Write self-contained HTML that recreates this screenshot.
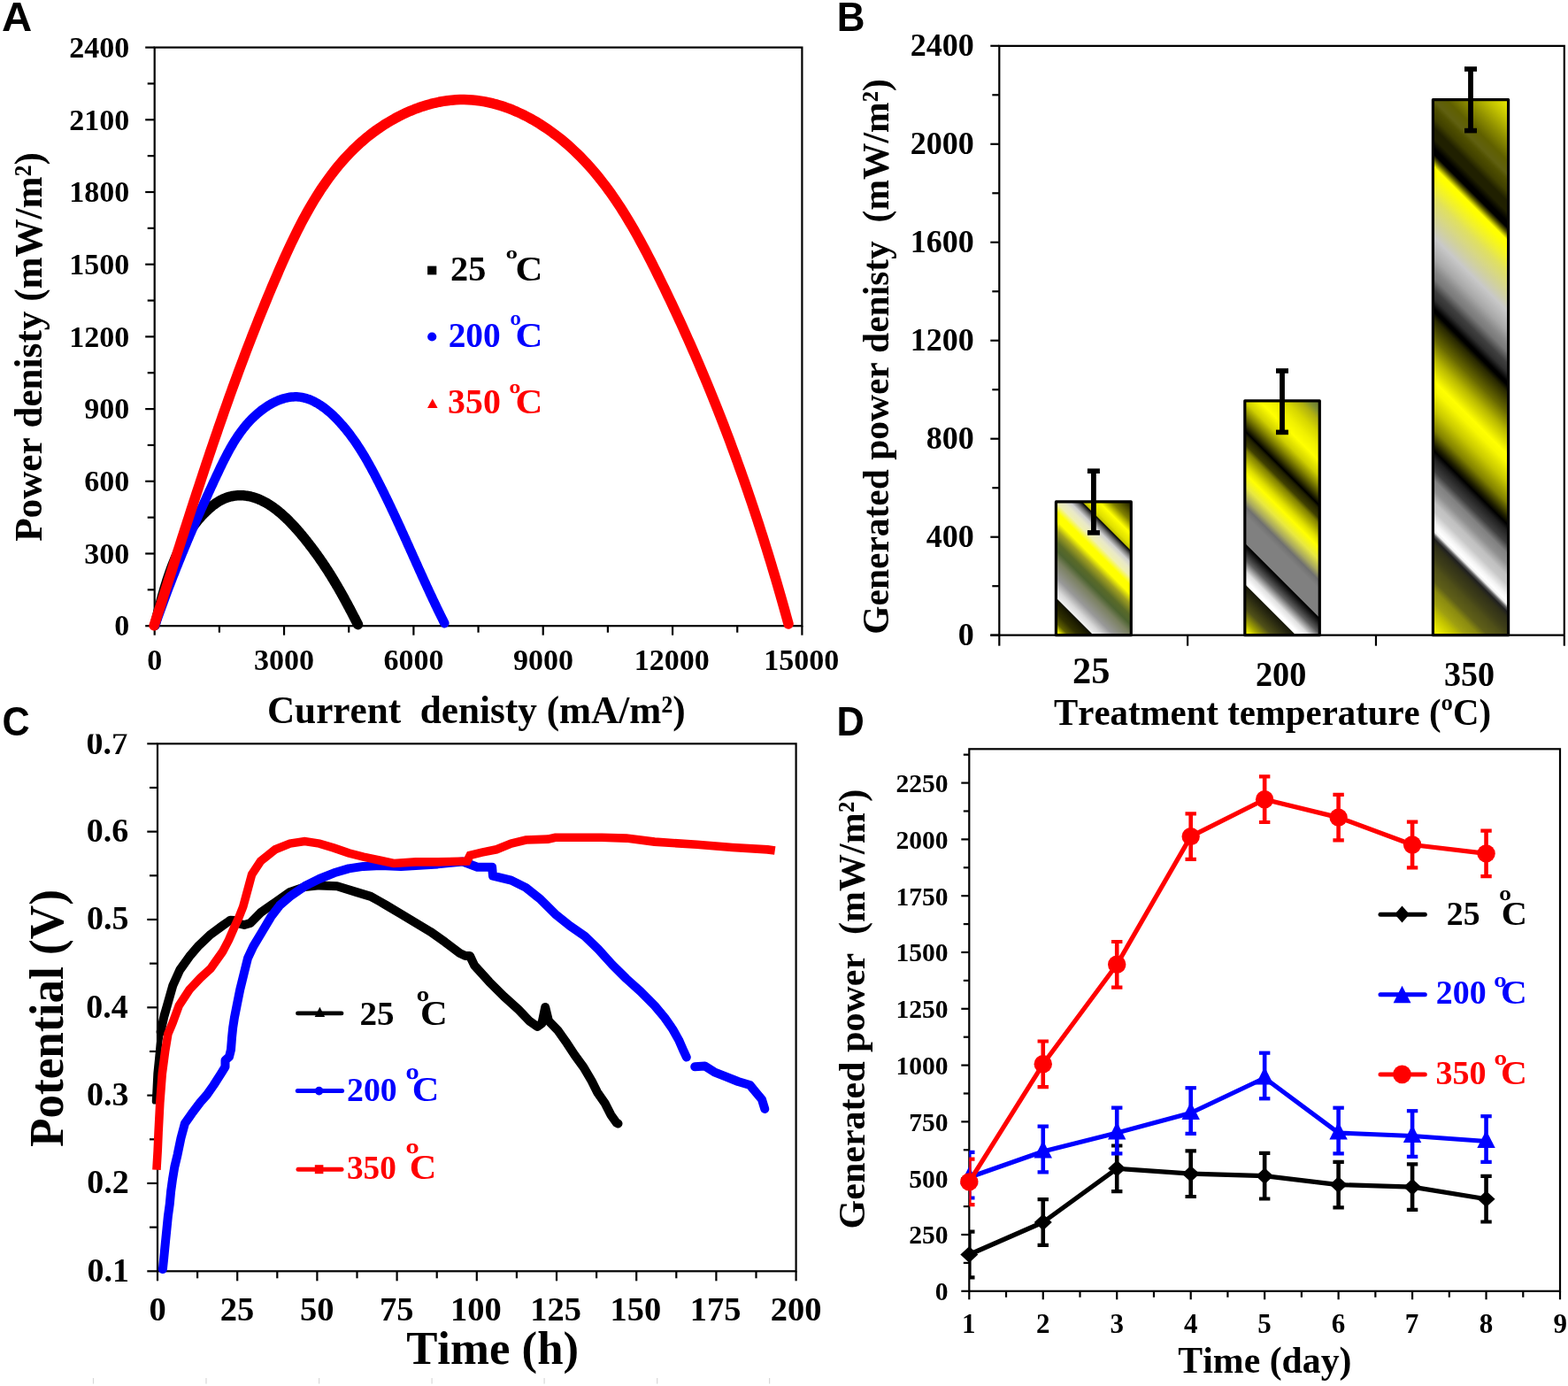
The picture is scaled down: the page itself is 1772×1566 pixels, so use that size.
<!DOCTYPE html>
<html><head><meta charset="utf-8"><title>Figure</title>
<style>
html,body{margin:0;padding:0;background:#fff;}
body{width:1772px;height:1566px;overflow:hidden;}
svg{display:block;}
text{font-weight:bold;font-kerning:none;white-space:pre;}
</style></head><body>
<svg width="1772" height="1566" viewBox="0 0 1772 1566">
<rect width="1772" height="1566" fill="#fff"/>
<rect x="174.7" y="53.6" width="731.7" height="653.6" fill="none" stroke="#000" stroke-width="2.2"/>
<line x1="164.2" y1="707.2" x2="174.7" y2="707.2" stroke="#000" stroke-width="2.2" />
<text xml:space="preserve" transform="translate(129.29 718.4) scale(1.0000 1)" font-size="34" fill="#000" style="font-family:'Liberation Serif',serif" >0</text>
<line x1="166.7" y1="666.35" x2="174.7" y2="666.35" stroke="#000" stroke-width="2.2" />
<line x1="164.2" y1="625.5" x2="174.7" y2="625.5" stroke="#000" stroke-width="2.2" />
<text xml:space="preserve" transform="translate(95.29 636.7) scale(1.0000 1)" font-size="34" fill="#000" style="font-family:'Liberation Serif',serif" >300</text>
<line x1="166.7" y1="584.65" x2="174.7" y2="584.65" stroke="#000" stroke-width="2.2" />
<line x1="164.2" y1="543.8" x2="174.7" y2="543.8" stroke="#000" stroke-width="2.2" />
<text xml:space="preserve" transform="translate(95.29 555) scale(1.0000 1)" font-size="34" fill="#000" style="font-family:'Liberation Serif',serif" >600</text>
<line x1="166.7" y1="502.95" x2="174.7" y2="502.95" stroke="#000" stroke-width="2.2" />
<line x1="164.2" y1="462.1" x2="174.7" y2="462.1" stroke="#000" stroke-width="2.2" />
<text xml:space="preserve" transform="translate(95.29 473.3) scale(1.0000 1)" font-size="34" fill="#000" style="font-family:'Liberation Serif',serif" >900</text>
<line x1="166.7" y1="421.25" x2="174.7" y2="421.25" stroke="#000" stroke-width="2.2" />
<line x1="164.2" y1="380.4" x2="174.7" y2="380.4" stroke="#000" stroke-width="2.2" />
<text xml:space="preserve" transform="translate(78.29 391.6) scale(1.0000 1)" font-size="34" fill="#000" style="font-family:'Liberation Serif',serif" >1200</text>
<line x1="166.7" y1="339.55" x2="174.7" y2="339.55" stroke="#000" stroke-width="2.2" />
<line x1="164.2" y1="298.7" x2="174.7" y2="298.7" stroke="#000" stroke-width="2.2" />
<text xml:space="preserve" transform="translate(78.29 309.9) scale(1.0000 1)" font-size="34" fill="#000" style="font-family:'Liberation Serif',serif" >1500</text>
<line x1="166.7" y1="257.85" x2="174.7" y2="257.85" stroke="#000" stroke-width="2.2" />
<line x1="164.2" y1="217" x2="174.7" y2="217" stroke="#000" stroke-width="2.2" />
<text xml:space="preserve" transform="translate(78.29 228.2) scale(1.0000 1)" font-size="34" fill="#000" style="font-family:'Liberation Serif',serif" >1800</text>
<line x1="166.7" y1="176.15" x2="174.7" y2="176.15" stroke="#000" stroke-width="2.2" />
<line x1="164.2" y1="135.3" x2="174.7" y2="135.3" stroke="#000" stroke-width="2.2" />
<text xml:space="preserve" transform="translate(78.29 146.5) scale(1.0000 1)" font-size="34" fill="#000" style="font-family:'Liberation Serif',serif" >2100</text>
<line x1="166.7" y1="94.45" x2="174.7" y2="94.45" stroke="#000" stroke-width="2.2" />
<line x1="164.2" y1="53.6" x2="174.7" y2="53.6" stroke="#000" stroke-width="2.2" />
<text xml:space="preserve" transform="translate(78.29 64.8) scale(1.0000 1)" font-size="34" fill="#000" style="font-family:'Liberation Serif',serif" >2400</text>
<line x1="174.7" y1="707.2" x2="174.7" y2="717.7" stroke="#000" stroke-width="2.2" />
<text xml:space="preserve" transform="translate(166.2 756.8) scale(1.0000 1)" font-size="34" fill="#000" style="font-family:'Liberation Serif',serif" >0</text>
<line x1="247.87" y1="707.2" x2="247.87" y2="714.7" stroke="#000" stroke-width="2.2" />
<line x1="321.04" y1="707.2" x2="321.04" y2="717.7" stroke="#000" stroke-width="2.2" />
<text xml:space="preserve" transform="translate(287.05 756.8) scale(1.0000 1)" font-size="34" fill="#000" style="font-family:'Liberation Serif',serif" >3000</text>
<line x1="394.21" y1="707.2" x2="394.21" y2="714.7" stroke="#000" stroke-width="2.2" />
<line x1="467.38" y1="707.2" x2="467.38" y2="717.7" stroke="#000" stroke-width="2.2" />
<text xml:space="preserve" transform="translate(433.45 756.8) scale(1.0000 1)" font-size="34" fill="#000" style="font-family:'Liberation Serif',serif" >6000</text>
<line x1="540.55" y1="707.2" x2="540.55" y2="714.7" stroke="#000" stroke-width="2.2" />
<line x1="613.72" y1="707.2" x2="613.72" y2="717.7" stroke="#000" stroke-width="2.2" />
<text xml:space="preserve" transform="translate(579.9 756.8) scale(1.0000 1)" font-size="34" fill="#000" style="font-family:'Liberation Serif',serif" >9000</text>
<line x1="686.89" y1="707.2" x2="686.89" y2="714.7" stroke="#000" stroke-width="2.2" />
<line x1="760.06" y1="707.2" x2="760.06" y2="717.7" stroke="#000" stroke-width="2.2" />
<text xml:space="preserve" transform="translate(716.85 756.8) scale(1.0000 1)" font-size="34" fill="#000" style="font-family:'Liberation Serif',serif" >12000</text>
<line x1="833.23" y1="707.2" x2="833.23" y2="714.7" stroke="#000" stroke-width="2.2" />
<line x1="906.4" y1="707.2" x2="906.4" y2="717.7" stroke="#000" stroke-width="2.2" />
<text xml:space="preserve" transform="translate(863.19 756.8) scale(1.0000 1)" font-size="34" fill="#000" style="font-family:'Liberation Serif',serif" >15000</text>
<text xml:space="preserve" transform="translate(46.6 611.74) rotate(-90) scale(0.9809 1)" font-size="44" fill="#000" style="font-family:'Liberation Serif',serif">Power denisty (mW/m²)</text>
<text xml:space="preserve" transform="translate(301.89 816.6) scale(0.9719 1)" font-size="44.5" fill="#000" style="font-family:'Liberation Serif',serif" >Current  denisty (mA/m²)</text>
<g fill="none" stroke-linejoin="round" stroke-linecap="round">
<path d="M175.06 706.21 L175.36 704.99 L175.67 703.77 L175.98 702.55 L176.3 701.33 L176.61 700.1 L176.92 698.87 L177.23 697.63 L177.55 696.4 L177.87 695.16 L178.18 693.92 L178.5 692.67 L178.82 691.43 L179.14 690.18 L179.47 688.93 L179.79 687.68 L180.12 686.42 L180.45 685.17 L180.78 683.91 L181.12 682.65 L181.45 681.39 L181.79 680.13 L182.13 678.87 L182.48 677.61 L182.82 676.34 L183.17 675.08 L183.53 673.81 L183.88 672.55 L184.24 671.28 L184.6 670.02 L184.97 668.75 L185.34 667.48 L185.71 666.22 L186.08 664.95 L186.46 663.69 L186.85 662.42 L187.23 661.16 L187.62 659.89 L188.02 658.63 L188.42 657.37 L188.82 656.1 L189.23 654.84 L189.65 653.58 L190.06 652.33 L190.49 651.07 L190.91 649.81 L191.35 648.56 L191.78 647.31 L192.23 646.06 L192.67 644.81 L193.13 643.56 L193.58 642.32 L194.05 641.08 L194.52 639.84 L194.99 638.6 L195.48 637.37 L195.96 636.14 L196.46 634.91 L196.96 633.68 L197.46 632.46 L197.97 631.24 L198.49 630.03 L199.02 628.81 L199.55 627.61 L200.09 626.4 L200.63 625.2 L201.19 624 L201.75 622.81 L202.31 621.62 L202.89 620.43 L203.47 619.25 L204.06 618.08 L204.65 616.9 L205.26 615.74 L205.87 614.58 L206.49 613.42 L207.12 612.26 L207.75 611.12 L208.39 609.98 L209.05 608.84 L209.71 607.71 L210.38 606.58 L211.05 605.46 L211.74 604.35 L212.44 603.24 L213.14 602.14 L213.85 601.04 L214.57 599.95 L215.3 598.86 L216.05 597.79 L216.79 596.72 L217.55 595.65 L218.32 594.6 L219.1 593.54 L219.89 592.5 L220.69 591.47 L221.5 590.44 L222.31 589.41 L223.14 588.4 L223.98 587.39 L224.83 586.39 L225.69 585.4 L226.56 584.42 L227.44 583.45 L228.33 582.48 L229.23 581.52 L230.15 580.57 L231.07 579.63 L232.01 578.69 L232.96 577.77 L233.91 576.85 L234.88 575.95 L235.86 575.06 L236.86 574.18 L237.86 573.32 L238.88 572.47 L239.9 571.64 L240.94 570.83 L241.99 570.04 L243.05 569.27 L244.12 568.52 L245.21 567.79 L246.3 567.09 L247.41 566.42 L248.53 565.77 L249.66 565.15 L250.8 564.56 L251.95 564 L253.12 563.47 L254.3 562.98 L255.48 562.52 L256.68 562.09 L257.89 561.71 L259.12 561.35 L260.34 561.04 L261.58 560.75 L262.82 560.51 L264.06 560.29 L265.31 560.11 L266.56 559.97 L267.81 559.86 L269.06 559.78 L270.3 559.73 L271.54 559.71 L272.78 559.73 L274.01 559.77 L275.24 559.85 L276.46 559.96 L277.68 560.1 L278.9 560.26 L280.11 560.46 L281.31 560.68 L282.51 560.93 L283.71 561.21 L284.9 561.52 L286.09 561.85 L287.27 562.21 L288.45 562.59 L289.62 563 L290.79 563.43 L291.95 563.89 L293.11 564.37 L294.27 564.87 L295.42 565.4 L296.56 565.95 L297.7 566.52 L298.83 567.11 L299.96 567.72 L301.08 568.36 L302.2 569.01 L303.32 569.68 L304.42 570.37 L305.53 571.08 L306.62 571.81 L307.71 572.55 L308.8 573.32 L309.88 574.1 L310.96 574.89 L312.03 575.7 L313.09 576.53 L314.15 577.37 L315.2 578.22 L316.25 579.09 L317.29 579.97 L318.33 580.87 L319.36 581.78 L320.38 582.7 L321.4 583.63 L322.42 584.57 L323.42 585.52 L324.42 586.48 L325.42 587.46 L326.41 588.44 L327.39 589.43 L328.37 590.43 L329.34 591.43 L330.3 592.45 L331.26 593.47 L332.21 594.49 L333.16 595.52 L334.09 596.56 L335.03 597.61 L335.95 598.65 L336.87 599.7 L337.79 600.76 L338.69 601.82 L339.59 602.88 L340.49 603.94 L341.37 605.01 L342.25 606.07 L343.13 607.14 L344 608.2 L344.86 609.27 L345.71 610.34 L346.55 611.4 L347.39 612.47 L348.23 613.53 L349.05 614.59 L349.87 615.65 L350.68 616.7 L351.49 617.76 L352.29 618.81 L353.08 619.86 L353.87 620.91 L354.65 621.96 L355.42 623.01 L356.19 624.05 L356.96 625.1 L357.72 626.14 L358.47 627.19 L359.21 628.23 L359.96 629.28 L360.69 630.32 L361.43 631.36 L362.15 632.41 L362.87 633.45 L363.59 634.49 L364.31 635.54 L365.01 636.58 L365.72 637.63 L366.42 638.67 L367.11 639.72 L367.81 640.77 L368.49 641.81 L369.18 642.86 L369.86 643.91 L370.54 644.96 L371.21 646.02 L371.88 647.07 L372.55 648.13 L373.22 649.19 L373.88 650.25 L374.54 651.31 L375.19 652.37 L375.85 653.44 L376.5 654.51 L377.15 655.58 L377.8 656.65 L378.44 657.73 L379.08 658.81 L379.72 659.89 L380.36 660.98 L381 662.07 L381.64 663.16 L382.27 664.26 L382.91 665.35 L383.54 666.46 L384.17 667.56 L384.8 668.67 L385.43 669.79 L386.06 670.91 L386.69 672.03 L387.32 673.15 L387.94 674.29 L388.57 675.42 L389.2 676.56 L389.83 677.71 L390.45 678.86 L391.08 680.01 L391.71 681.17 L392.34 682.34 L392.97 683.51 L393.6 684.68 L394.23 685.87 L394.86 687.05 L395.49 688.25 L396.13 689.44 L396.76 690.65 L397.4 691.86 L398.04 693.08 L398.68 694.3 L399.32 695.53 L399.96 696.77 L400.61 698.01 L401.26 699.26 L401.91 700.52 L402.56 701.79 L403.21 703.06 L403.87 704.34 L404.53 705.62" stroke="#000" stroke-width="11.5"/>
<path d="M175.15 706.65 L175.86 704.61 L176.57 702.57 L177.29 700.54 L178 698.5 L178.72 696.48 L179.44 694.45 L180.17 692.43 L180.89 690.42 L181.62 688.4 L182.35 686.39 L183.08 684.38 L183.81 682.38 L184.55 680.38 L185.28 678.38 L186.02 676.38 L186.77 674.39 L187.51 672.4 L188.25 670.41 L189 668.43 L189.75 666.45 L190.5 664.47 L191.26 662.49 L192.01 660.52 L192.77 658.55 L193.53 656.58 L194.29 654.61 L195.05 652.64 L195.82 650.68 L196.59 648.72 L197.36 646.76 L198.13 644.8 L198.91 642.85 L199.68 640.9 L200.46 638.95 L201.24 637 L202.03 635.05 L202.81 633.1 L203.6 631.16 L204.39 629.21 L205.18 627.27 L205.98 625.33 L206.78 623.39 L207.58 621.46 L208.38 619.52 L209.18 617.58 L209.99 615.65 L210.8 613.72 L211.61 611.79 L212.42 609.85 L213.24 607.92 L214.05 606 L214.87 604.07 L215.7 602.14 L216.52 600.21 L217.35 598.28 L218.18 596.36 L219.01 594.43 L219.84 592.51 L220.68 590.58 L221.52 588.66 L222.36 586.73 L223.2 584.81 L224.05 582.89 L224.9 580.96 L225.75 579.04 L226.61 577.11 L227.46 575.19 L228.32 573.27 L229.18 571.34 L230.05 569.42 L230.91 567.49 L231.78 565.56 L232.65 563.64 L233.53 561.71 L234.4 559.79 L235.28 557.86 L236.16 555.93 L237.05 554 L237.93 552.07 L238.82 550.14 L239.72 548.21 L240.61 546.27 L241.51 544.34 L242.41 542.4 L243.31 540.47 L244.21 538.53 L245.12 536.59 L246.03 534.65 L246.95 532.71 L247.87 530.77 L248.79 528.83 L249.72 526.9 L250.66 524.96 L251.6 523.03 L252.55 521.11 L253.52 519.19 L254.49 517.27 L255.47 515.36 L256.47 513.46 L257.47 511.56 L258.49 509.68 L259.53 507.8 L260.58 505.94 L261.64 504.08 L262.72 502.24 L263.82 500.41 L264.94 498.59 L266.07 496.79 L267.22 495 L268.4 493.23 L269.59 491.47 L270.81 489.73 L272.05 488.01 L273.31 486.31 L274.6 484.63 L275.91 482.96 L277.25 481.32 L278.62 479.7 L280.01 478.1 L281.43 476.52 L282.88 474.97 L284.36 473.44 L285.87 471.94 L287.41 470.47 L288.99 469.02 L290.59 467.6 L292.23 466.2 L293.9 464.84 L295.61 463.51 L297.34 462.22 L299.1 460.97 L300.88 459.76 L302.68 458.6 L304.51 457.48 L306.36 456.41 L308.23 455.4 L310.11 454.44 L312.01 453.54 L313.92 452.71 L315.84 451.93 L317.77 451.23 L319.72 450.59 L321.66 450.02 L323.61 449.53 L325.57 449.12 L327.52 448.79 L329.48 448.54 L331.43 448.38 L333.38 448.31 L335.32 448.33 L337.26 448.44 L339.18 448.65 L341.1 448.95 L343.01 449.33 L344.91 449.8 L346.79 450.36 L348.67 451 L350.53 451.71 L352.39 452.49 L354.22 453.35 L356.05 454.28 L357.86 455.27 L359.66 456.33 L361.44 457.44 L363.2 458.61 L364.95 459.84 L366.69 461.11 L368.4 462.44 L370.1 463.81 L371.78 465.22 L373.44 466.67 L375.08 468.16 L376.7 469.69 L378.3 471.24 L379.87 472.82 L381.43 474.43 L382.97 476.06 L384.48 477.71 L385.97 479.38 L387.43 481.06 L388.87 482.75 L390.28 484.45 L391.67 486.16 L393.04 487.87 L394.38 489.59 L395.7 491.31 L397 493.04 L398.27 494.78 L399.53 496.52 L400.76 498.27 L401.98 500.03 L403.17 501.79 L404.35 503.55 L405.51 505.32 L406.66 507.1 L407.79 508.88 L408.9 510.67 L410 512.46 L411.08 514.26 L412.16 516.06 L413.22 517.86 L414.26 519.67 L415.3 521.49 L416.33 523.31 L417.34 525.13 L418.35 526.96 L419.35 528.79 L420.35 530.63 L421.33 532.47 L422.31 534.31 L423.29 536.16 L424.26 538.01 L425.22 539.86 L426.19 541.72 L427.14 543.58 L428.1 545.44 L429.05 547.31 L429.99 549.18 L430.93 551.05 L431.87 552.93 L432.8 554.81 L433.73 556.69 L434.66 558.57 L435.59 560.46 L436.51 562.35 L437.42 564.24 L438.34 566.13 L439.25 568.03 L440.16 569.93 L441.07 571.83 L441.97 573.73 L442.87 575.64 L443.77 577.55 L444.66 579.45 L445.56 581.37 L446.45 583.28 L447.34 585.19 L448.23 587.11 L449.11 589.03 L450 590.95 L450.88 592.87 L451.76 594.79 L452.64 596.71 L453.51 598.63 L454.39 600.56 L455.27 602.49 L456.14 604.41 L457.01 606.34 L457.88 608.27 L458.75 610.2 L459.62 612.13 L460.49 614.06 L461.36 615.99 L462.23 617.93 L463.1 619.86 L463.97 621.79 L464.83 623.73 L465.7 625.66 L466.57 627.59 L467.44 629.53 L468.3 631.46 L469.17 633.39 L470.04 635.33 L470.91 637.26 L471.78 639.19 L472.65 641.12 L473.52 643.05 L474.39 644.99 L475.27 646.92 L476.14 648.85 L477.01 650.78 L477.89 652.7 L478.77 654.63 L479.65 656.56 L480.53 658.48 L481.41 660.41 L482.29 662.33 L483.18 664.25 L484.06 666.17 L484.95 668.09 L485.85 670.01 L486.74 671.92 L487.64 673.84 L488.53 675.75 L489.43 677.66 L490.34 679.57 L491.24 681.48 L492.15 683.38 L493.06 685.28 L493.98 687.19 L494.9 689.08 L495.82 690.98 L496.74 692.87 L497.67 694.77 L498.6 696.65 L499.53 698.54 L500.47 700.42 L501.41 702.31 L502.36 704.18" stroke="#0000ff" stroke-width="10.5"/>
<path d="M174.15 706.85 L175.67 702.1 L177.2 697.35 L178.72 692.61 L180.24 687.87 L181.75 683.14 L183.26 678.42 L184.77 673.7 L186.28 668.98 L187.78 664.27 L189.29 659.57 L190.79 654.86 L192.28 650.17 L193.78 645.48 L195.28 640.79 L196.77 636.11 L198.26 631.43 L199.76 626.76 L201.25 622.09 L202.74 617.43 L204.23 612.77 L205.72 608.11 L207.22 603.46 L208.71 598.82 L210.2 594.17 L211.7 589.53 L213.19 584.9 L214.69 580.26 L216.19 575.64 L217.69 571.01 L219.19 566.39 L220.7 561.77 L222.21 557.15 L223.72 552.54 L225.23 547.93 L226.75 543.33 L228.27 538.73 L229.79 534.13 L231.32 529.53 L232.85 524.93 L234.38 520.34 L235.92 515.75 L237.46 511.17 L239.01 506.58 L240.57 502 L242.13 497.42 L243.69 492.85 L245.26 488.27 L246.83 483.7 L248.42 479.13 L250 474.56 L251.6 469.99 L253.2 465.42 L254.81 460.86 L256.42 456.3 L258.04 451.74 L259.67 447.18 L261.31 442.62 L262.96 438.06 L264.61 433.5 L266.27 428.95 L267.94 424.4 L269.62 419.84 L271.31 415.29 L273.01 410.74 L274.71 406.19 L276.43 401.64 L278.15 397.09 L279.89 392.54 L281.64 387.99 L283.39 383.44 L285.16 378.9 L286.94 374.35 L288.73 369.8 L290.53 365.25 L292.34 360.71 L294.16 356.16 L296 351.61 L297.85 347.06 L299.71 342.51 L301.58 337.96 L303.46 333.41 L305.36 328.86 L307.27 324.31 L309.2 319.76 L311.14 315.21 L313.09 310.65 L315.05 306.1 L317.04 301.55 L319.04 297 L321.06 292.45 L323.1 287.92 L325.16 283.39 L327.25 278.88 L329.37 274.38 L331.51 269.9 L333.69 265.43 L335.89 260.98 L338.13 256.56 L340.4 252.16 L342.71 247.79 L345.06 243.44 L347.45 239.12 L349.88 234.84 L352.36 230.59 L354.88 226.38 L357.45 222.2 L360.07 218.07 L362.73 213.98 L365.45 209.93 L368.23 205.93 L371.06 201.98 L373.94 198.07 L376.89 194.23 L379.9 190.43 L382.96 186.69 L386.1 183.01 L389.3 179.39 L392.57 175.84 L395.9 172.35 L399.31 168.92 L402.8 165.57 L406.35 162.28 L409.98 159.07 L413.7 155.94 L417.49 152.88 L421.36 149.9 L425.31 147 L429.34 144.19 L433.44 141.47 L437.61 138.84 L441.84 136.32 L446.13 133.89 L450.48 131.58 L454.88 129.38 L459.33 127.29 L463.82 125.32 L468.36 123.48 L472.93 121.76 L477.53 120.18 L482.17 118.73 L486.83 117.42 L491.51 116.26 L496.2 115.25 L500.91 114.39 L505.63 113.69 L510.36 113.15 L515.08 112.78 L519.81 112.57 L524.52 112.54 L529.23 112.68 L533.93 112.99 L538.61 113.47 L543.28 114.1 L547.94 114.89 L552.57 115.84 L557.18 116.93 L561.77 118.16 L566.33 119.54 L570.87 121.05 L575.37 122.7 L579.84 124.47 L584.28 126.37 L588.68 128.38 L593.05 130.52 L597.37 132.76 L601.66 135.12 L605.89 137.58 L610.08 140.13 L614.22 142.79 L618.32 145.54 L622.35 148.37 L626.34 151.29 L630.26 154.29 L634.13 157.37 L637.94 160.51 L641.68 163.73 L645.35 167.01 L648.96 170.35 L652.51 173.75 L655.98 177.2 L659.4 180.71 L662.75 184.27 L666.04 187.89 L669.27 191.55 L672.45 195.27 L675.57 199.03 L678.63 202.83 L681.64 206.68 L684.6 210.57 L687.51 214.5 L690.37 218.47 L693.19 222.48 L695.96 226.52 L698.68 230.59 L701.37 234.7 L704.01 238.84 L706.62 243.01 L709.18 247.2 L711.72 251.42 L714.21 255.67 L716.68 259.94 L719.11 264.23 L721.51 268.54 L723.89 272.86 L726.24 277.2 L728.56 281.56 L730.86 285.93 L733.14 290.31 L735.39 294.7 L737.63 299.1 L739.85 303.51 L742.05 307.92 L744.25 312.33 L746.42 316.75 L748.59 321.17 L750.74 325.59 L752.88 330.01 L755 334.43 L757.12 338.86 L759.22 343.29 L761.31 347.72 L763.38 352.15 L765.45 356.59 L767.5 361.02 L769.54 365.46 L771.57 369.9 L773.58 374.35 L775.58 378.8 L777.57 383.25 L779.55 387.7 L781.52 392.16 L783.48 396.61 L785.42 401.08 L787.35 405.54 L789.28 410.01 L791.18 414.48 L793.08 418.95 L794.97 423.43 L796.84 427.91 L798.71 432.39 L800.56 436.88 L802.4 441.37 L804.23 445.87 L806.05 450.36 L807.86 454.87 L809.66 459.37 L811.45 463.88 L813.22 468.39 L814.99 472.91 L816.74 477.43 L818.49 481.95 L820.22 486.48 L821.95 491.02 L823.66 495.55 L825.36 500.09 L827.05 504.64 L828.74 509.19 L830.41 513.74 L832.07 518.3 L833.72 522.86 L835.37 527.43 L837 532.01 L838.62 536.58 L840.23 541.16 L841.84 545.75 L843.43 550.34 L845.01 554.94 L846.59 559.54 L848.15 564.15 L849.71 568.76 L851.26 573.38 L852.79 578 L854.32 582.63 L855.84 587.26 L857.35 591.9 L858.85 596.54 L860.34 601.19 L861.83 605.85 L863.3 610.51 L864.77 615.18 L866.22 619.85 L867.67 624.53 L869.11 629.21 L870.54 633.9 L871.97 638.6 L873.38 643.3 L874.79 648.01 L876.19 652.72 L877.58 657.44 L878.96 662.17 L880.33 666.91 L881.7 671.65 L883.06 676.39 L884.41 681.15 L885.75 685.91 L887.08 690.67 L888.41 695.44 L889.73 700.22 L891.04 705.01" stroke="#ff0000" stroke-width="11.5"/>
</g>
<text xml:space="preserve" transform="translate(2.02 34.8) scale(1.0193 1)" font-size="46.5" fill="#000" style="font-family:'Liberation Sans',sans-serif" >A</text>
<rect x="483.1" y="300.6" width="10.2" height="9.8" fill="#000"/>
<circle cx="488.2" cy="380.5" r="5.1" fill="#0000ff"/>
<path d="M483 461 L494.6 461 L488.8 450.4 Z" fill="#ff0000"/>
<text xml:space="preserve" transform="translate(509.01 317) scale(1.0220 1)" font-size="39.4" fill="#000" style="font-family:'Liberation Serif',serif" >25</text>
<text transform="translate(571.55 302.57) scale(0.4125 0.2946)" font-size="100" fill="#000" style="font-family:'Liberation Serif',serif">º</text>
<text xml:space="preserve" transform="translate(582.41 317.3) scale(1.0415 1)" font-size="41" fill="#000" style="font-family:'Liberation Serif',serif" >C</text>
<text xml:space="preserve" transform="translate(506.64 392) scale(0.9909 1)" font-size="39.8" fill="#0000ff" style="font-family:'Liberation Serif',serif" >200</text>
<text transform="translate(576.32 380.67) scale(0.3870 0.3743)" font-size="100" fill="#0000ff" style="font-family:'Liberation Serif',serif">º</text>
<text xml:space="preserve" transform="translate(582.41 392) scale(1.0415 1)" font-size="41" fill="#0000ff" style="font-family:'Liberation Serif',serif" >C</text>
<text xml:space="preserve" transform="translate(506.1 466.5) scale(1.0104 1)" font-size="39.4" fill="#ff0000" style="font-family:'Liberation Serif',serif" >350</text>
<text transform="translate(575.28 457.56) scale(0.4016 0.3500)" font-size="100" fill="#ff0000" style="font-family:'Liberation Serif',serif">º</text>
<text xml:space="preserve" transform="translate(582.41 466.5) scale(1.0415 1)" font-size="41" fill="#ff0000" style="font-family:'Liberation Serif',serif" >C</text>
<defs><linearGradient id="gb1" gradientUnits="userSpaceOnUse" x1="476" y1="0" x2="594" y2="-118"><stop offset="0.0000" stop-color="#e8e800"/><stop offset="0.0212" stop-color="#f0f000"/><stop offset="0.0593" stop-color="#606000"/><stop offset="0.1059" stop-color="#303000"/><stop offset="0.1441" stop-color="#202000"/><stop offset="0.1758" stop-color="#101000"/><stop offset="0.1801" stop-color="#f0f0f0"/><stop offset="0.2203" stop-color="#d8d8d8"/><stop offset="0.2754" stop-color="#999999"/><stop offset="0.3602" stop-color="#7a8060"/><stop offset="0.4068" stop-color="#4d6330"/><stop offset="0.4492" stop-color="#5a6a28"/><stop offset="0.5042" stop-color="#a0a020"/><stop offset="0.5508" stop-color="#ffff00"/><stop offset="0.5932" stop-color="#ffff00"/><stop offset="0.6356" stop-color="#f0f0b0"/><stop offset="0.6737" stop-color="#e8e8c8"/><stop offset="0.7034" stop-color="#d0d0d0"/><stop offset="0.7331" stop-color="#707070"/><stop offset="0.7606" stop-color="#000000"/><stop offset="0.7648" stop-color="#c0c000"/><stop offset="0.7881" stop-color="#e0e000"/><stop offset="0.8432" stop-color="#ffff00"/><stop offset="0.9025" stop-color="#808000"/><stop offset="0.9746" stop-color="#303000"/><stop offset="1.0000" stop-color="#202000"/></linearGradient><linearGradient id="gb2" gradientUnits="userSpaceOnUse" x1="690" y1="0" x2="865" y2="-175"><stop offset="0.0000" stop-color="#f0f000"/><stop offset="0.0171" stop-color="#e8e800"/><stop offset="0.0429" stop-color="#a8a800"/><stop offset="0.0857" stop-color="#505018"/><stop offset="0.1371" stop-color="#282810"/><stop offset="0.1600" stop-color="#181808"/><stop offset="0.1643" stop-color="#ffffff"/><stop offset="0.1771" stop-color="#ffffff"/><stop offset="0.2057" stop-color="#e0e0e0"/><stop offset="0.2429" stop-color="#606060"/><stop offset="0.2829" stop-color="#101010"/><stop offset="0.2929" stop-color="#000000"/><stop offset="0.2971" stop-color="#808080"/><stop offset="0.3857" stop-color="#808080"/><stop offset="0.4143" stop-color="#707070"/><stop offset="0.4400" stop-color="#a8a860"/><stop offset="0.4800" stop-color="#e8e840"/><stop offset="0.5200" stop-color="#ffff00"/><stop offset="0.5457" stop-color="#e0e000"/><stop offset="0.5714" stop-color="#b0b000"/><stop offset="0.5971" stop-color="#808000"/><stop offset="0.6143" stop-color="#404000"/><stop offset="0.6457" stop-color="#202000"/><stop offset="0.6571" stop-color="#000000"/><stop offset="0.6771" stop-color="#303000"/><stop offset="0.7171" stop-color="#8a8a00"/><stop offset="0.7514" stop-color="#d0d000"/><stop offset="0.8000" stop-color="#ffff00"/><stop offset="0.8429" stop-color="#f0f000"/><stop offset="0.8857" stop-color="#d8d800"/><stop offset="0.9314" stop-color="#b0b010"/><stop offset="0.9600" stop-color="#809030"/><stop offset="1.0000" stop-color="#607030"/></linearGradient><linearGradient id="gb3" gradientUnits="userSpaceOnUse" x1="902" y1="0" x2="1247.5" y2="-345.5"><stop offset="0.0000" stop-color="#ffff00"/><stop offset="0.0101" stop-color="#f0f000"/><stop offset="0.0391" stop-color="#c0c000"/><stop offset="0.0535" stop-color="#a0a010"/><stop offset="0.0753" stop-color="#8a8a10"/><stop offset="0.0897" stop-color="#606018"/><stop offset="0.1129" stop-color="#505018"/><stop offset="0.1274" stop-color="#404018"/><stop offset="0.1491" stop-color="#303018"/><stop offset="0.1592" stop-color="#202020"/><stop offset="0.1650" stop-color="#606060"/><stop offset="0.1708" stop-color="#f0f0f0"/><stop offset="0.1766" stop-color="#ffffff"/><stop offset="0.1852" stop-color="#f4f4f4"/><stop offset="0.2041" stop-color="#c8c8c8"/><stop offset="0.2185" stop-color="#c0c0c0"/><stop offset="0.2373" stop-color="#909090"/><stop offset="0.2547" stop-color="#808080"/><stop offset="0.2706" stop-color="#404040"/><stop offset="0.2909" stop-color="#202020"/><stop offset="0.3025" stop-color="#000000"/><stop offset="0.3126" stop-color="#202000"/><stop offset="0.3372" stop-color="#808000"/><stop offset="0.3705" stop-color="#c8c800"/><stop offset="0.4023" stop-color="#f8f800"/><stop offset="0.4168" stop-color="#ffff00"/><stop offset="0.4530" stop-color="#b8b800"/><stop offset="0.4848" stop-color="#686800"/><stop offset="0.5181" stop-color="#282800"/><stop offset="0.5297" stop-color="#000000"/><stop offset="0.5355" stop-color="#000000"/><stop offset="0.5514" stop-color="#303030"/><stop offset="0.5658" stop-color="#404040"/><stop offset="0.5847" stop-color="#787878"/><stop offset="0.5991" stop-color="#888888"/><stop offset="0.6179" stop-color="#a8a8a8"/><stop offset="0.6339" stop-color="#b8b8b8"/><stop offset="0.6512" stop-color="#c8c8c8"/><stop offset="0.6744" stop-color="#d0d0a0"/><stop offset="0.7149" stop-color="#e0e060"/><stop offset="0.7352" stop-color="#f0f030"/><stop offset="0.7583" stop-color="#ffff00"/><stop offset="0.7670" stop-color="#ffff00"/><stop offset="0.7786" stop-color="#606000"/><stop offset="0.7873" stop-color="#000000"/><stop offset="0.7974" stop-color="#000000"/><stop offset="0.8133" stop-color="#202000"/><stop offset="0.8307" stop-color="#202000"/><stop offset="0.8466" stop-color="#404000"/><stop offset="0.8654" stop-color="#505000"/><stop offset="0.8755" stop-color="#606010"/><stop offset="0.8973" stop-color="#606000"/><stop offset="0.9305" stop-color="#909000"/><stop offset="0.9624" stop-color="#c0c000"/><stop offset="1.0000" stop-color="#f0f000"/></linearGradient></defs>
<rect x="1193.4" y="566.9" width="84.9" height="150.8" fill="url(#gb1)" stroke="#000" stroke-width="3.2" stroke-linejoin="round"/>
<rect x="1406.8" y="452.8" width="84.5" height="264.9" fill="url(#gb2)" stroke="#000" stroke-width="3.2" stroke-linejoin="round"/>
<rect x="1619.4" y="112.6" width="85.2" height="605.1" fill="url(#gb3)" stroke="#000" stroke-width="3.2" stroke-linejoin="round"/>
<line x1="1235.9" y1="532.2" x2="1235.9" y2="601.9" stroke="#000" stroke-width="5.8" />
<line x1="1228.9" y1="532.2" x2="1242.9" y2="532.2" stroke="#000" stroke-width="5.6" />
<line x1="1228.9" y1="601.9" x2="1242.9" y2="601.9" stroke="#000" stroke-width="5.6" />
<line x1="1449" y1="419" x2="1449" y2="488.4" stroke="#000" stroke-width="5.8" />
<line x1="1442" y1="419" x2="1456" y2="419" stroke="#000" stroke-width="5.6" />
<line x1="1442" y1="488.4" x2="1456" y2="488.4" stroke="#000" stroke-width="5.6" />
<line x1="1662" y1="78" x2="1662" y2="147.6" stroke="#000" stroke-width="5.8" />
<line x1="1655" y1="78" x2="1669" y2="78" stroke="#000" stroke-width="5.6" />
<line x1="1655" y1="147.6" x2="1669" y2="147.6" stroke="#000" stroke-width="5.6" />
<path d="M1129.3 717.7 L1129.3 51.8 L1767.8 51.8 L1767.8 717.7" fill="none" stroke="#000" stroke-width="2.2"/>
<line x1="1119.3" y1="717.7" x2="1767.8" y2="717.7" stroke="#000" stroke-width="2.2" />
<line x1="1119.3" y1="717.7" x2="1129.3" y2="717.7" stroke="#000" stroke-width="2.2" />
<text xml:space="preserve" transform="translate(1082.67 728.9) scale(1.0000 1)" font-size="36" fill="#000" style="font-family:'Liberation Serif',serif" >0</text>
<line x1="1121.3" y1="662.21" x2="1129.3" y2="662.21" stroke="#000" stroke-width="2.2" />
<line x1="1119.3" y1="606.72" x2="1129.3" y2="606.72" stroke="#000" stroke-width="2.2" />
<text xml:space="preserve" transform="translate(1046.67 617.92) scale(1.0000 1)" font-size="36" fill="#000" style="font-family:'Liberation Serif',serif" >400</text>
<line x1="1121.3" y1="551.23" x2="1129.3" y2="551.23" stroke="#000" stroke-width="2.2" />
<line x1="1119.3" y1="495.73" x2="1129.3" y2="495.73" stroke="#000" stroke-width="2.2" />
<text xml:space="preserve" transform="translate(1046.67 506.93) scale(1.0000 1)" font-size="36" fill="#000" style="font-family:'Liberation Serif',serif" >800</text>
<line x1="1121.3" y1="440.24" x2="1129.3" y2="440.24" stroke="#000" stroke-width="2.2" />
<line x1="1119.3" y1="384.75" x2="1129.3" y2="384.75" stroke="#000" stroke-width="2.2" />
<text xml:space="preserve" transform="translate(1028.67 395.95) scale(1.0000 1)" font-size="36" fill="#000" style="font-family:'Liberation Serif',serif" >1200</text>
<line x1="1121.3" y1="329.26" x2="1129.3" y2="329.26" stroke="#000" stroke-width="2.2" />
<line x1="1119.3" y1="273.77" x2="1129.3" y2="273.77" stroke="#000" stroke-width="2.2" />
<text xml:space="preserve" transform="translate(1028.67 284.97) scale(1.0000 1)" font-size="36" fill="#000" style="font-family:'Liberation Serif',serif" >1600</text>
<line x1="1121.3" y1="218.27" x2="1129.3" y2="218.27" stroke="#000" stroke-width="2.2" />
<line x1="1119.3" y1="162.78" x2="1129.3" y2="162.78" stroke="#000" stroke-width="2.2" />
<text xml:space="preserve" transform="translate(1028.67 173.98) scale(1.0000 1)" font-size="36" fill="#000" style="font-family:'Liberation Serif',serif" >2000</text>
<line x1="1121.3" y1="107.29" x2="1129.3" y2="107.29" stroke="#000" stroke-width="2.2" />
<line x1="1119.3" y1="51.8" x2="1129.3" y2="51.8" stroke="#000" stroke-width="2.2" />
<text xml:space="preserve" transform="translate(1028.67 63) scale(1.0000 1)" font-size="36" fill="#000" style="font-family:'Liberation Serif',serif" >2400</text>
<line x1="1129.3" y1="717.7" x2="1129.3" y2="729.7" stroke="#000" stroke-width="2.2" />
<line x1="1342.13" y1="717.7" x2="1342.13" y2="729.7" stroke="#000" stroke-width="2.2" />
<line x1="1554.97" y1="717.7" x2="1554.97" y2="729.7" stroke="#000" stroke-width="2.2" />
<line x1="1767.8" y1="717.7" x2="1767.8" y2="729.7" stroke="#000" stroke-width="2.2" />
<text xml:space="preserve" transform="translate(1211.92 771.6) scale(0.9985 1)" font-size="42.5" fill="#000" style="font-family:'Liberation Serif',serif" >25</text>
<text xml:space="preserve" transform="translate(1418.99 775) scale(0.9806 1)" font-size="39" fill="#000" style="font-family:'Liberation Serif',serif" >200</text>
<text xml:space="preserve" transform="translate(1631.97 775) scale(0.9775 1)" font-size="39" fill="#000" style="font-family:'Liberation Serif',serif" >350</text>
<text xml:space="preserve" transform="translate(1191.06 818.6) scale(0.9560 1)" font-size="42.7" fill="#000" style="font-family:'Liberation Serif',serif" >Treatment temperature (ºC)</text>
<text xml:space="preserve" transform="translate(1004 716.73) rotate(-90) scale(0.9759 1)" font-size="42.5" fill="#000" style="font-family:'Liberation Serif',serif">Generated power denisty  (mW/m²)</text>
<text xml:space="preserve" transform="translate(945.66 34.9) scale(0.9450 1)" font-size="46.5" fill="#000" style="font-family:'Liberation Sans',sans-serif" >B</text>
<clipPath id="clipC07"><rect x="0" y="829.6" width="170" height="40"/></clipPath>
<rect x="178" y="840.3" width="721.6" height="596" fill="none" stroke="#000" stroke-width="2.2"/>
<line x1="166.3" y1="1436.3" x2="178" y2="1436.3" stroke="#000" stroke-width="2.2" />
<text xml:space="preserve" transform="translate(98.57 1447.7) scale(1.0000 1)" font-size="38" fill="#000" style="font-family:'Liberation Serif',serif" >0.1</text>
<line x1="169" y1="1386.63" x2="178" y2="1386.63" stroke="#000" stroke-width="2.2" />
<line x1="166.3" y1="1336.97" x2="178" y2="1336.97" stroke="#000" stroke-width="2.2" />
<text xml:space="preserve" transform="translate(98.23 1348.37) scale(1.0000 1)" font-size="38" fill="#000" style="font-family:'Liberation Serif',serif" >0.2</text>
<line x1="169" y1="1287.3" x2="178" y2="1287.3" stroke="#000" stroke-width="2.2" />
<line x1="166.3" y1="1237.63" x2="178" y2="1237.63" stroke="#000" stroke-width="2.2" />
<text xml:space="preserve" transform="translate(97.9 1249.03) scale(1.0000 1)" font-size="38" fill="#000" style="font-family:'Liberation Serif',serif" >0.3</text>
<line x1="169" y1="1187.97" x2="178" y2="1187.97" stroke="#000" stroke-width="2.2" />
<line x1="166.3" y1="1138.3" x2="178" y2="1138.3" stroke="#000" stroke-width="2.2" />
<text xml:space="preserve" transform="translate(97.31 1149.7) scale(1.0000 1)" font-size="38" fill="#000" style="font-family:'Liberation Serif',serif" >0.4</text>
<line x1="169" y1="1088.63" x2="178" y2="1088.63" stroke="#000" stroke-width="2.2" />
<line x1="166.3" y1="1038.97" x2="178" y2="1038.97" stroke="#000" stroke-width="2.2" />
<text xml:space="preserve" transform="translate(97.99 1050.37) scale(1.0000 1)" font-size="38" fill="#000" style="font-family:'Liberation Serif',serif" >0.5</text>
<line x1="169" y1="989.3" x2="178" y2="989.3" stroke="#000" stroke-width="2.2" />
<line x1="166.3" y1="939.63" x2="178" y2="939.63" stroke="#000" stroke-width="2.2" />
<text xml:space="preserve" transform="translate(97.71 951.03) scale(1.0000 1)" font-size="38" fill="#000" style="font-family:'Liberation Serif',serif" >0.6</text>
<line x1="169" y1="889.97" x2="178" y2="889.97" stroke="#000" stroke-width="2.2" />
<line x1="166.3" y1="840.3" x2="178" y2="840.3" stroke="#000" stroke-width="2.2" />
<g clip-path="url(#clipC07)">
<text xml:space="preserve" transform="translate(97.53 851.7) scale(1.0000 1)" font-size="38" fill="#000" style="font-family:'Liberation Serif',serif" >0.7</text>
</g>
<line x1="178" y1="1436.3" x2="178" y2="1447.3" stroke="#000" stroke-width="2.2" />
<text xml:space="preserve" transform="translate(168.38 1492.2) scale(1.0000 1)" font-size="38.5" fill="#000" style="font-family:'Liberation Serif',serif" >0</text>
<line x1="223.1" y1="1436.3" x2="223.1" y2="1444.3" stroke="#000" stroke-width="2.2" />
<line x1="268.2" y1="1436.3" x2="268.2" y2="1447.3" stroke="#000" stroke-width="2.2" />
<text xml:space="preserve" transform="translate(248.85 1492.2) scale(1.0000 1)" font-size="38.5" fill="#000" style="font-family:'Liberation Serif',serif" >25</text>
<line x1="313.3" y1="1436.3" x2="313.3" y2="1444.3" stroke="#000" stroke-width="2.2" />
<line x1="358.4" y1="1436.3" x2="358.4" y2="1447.3" stroke="#000" stroke-width="2.2" />
<text xml:space="preserve" transform="translate(339.11 1492.2) scale(1.0000 1)" font-size="38.5" fill="#000" style="font-family:'Liberation Serif',serif" >50</text>
<line x1="403.5" y1="1436.3" x2="403.5" y2="1444.3" stroke="#000" stroke-width="2.2" />
<line x1="448.6" y1="1436.3" x2="448.6" y2="1447.3" stroke="#000" stroke-width="2.2" />
<text xml:space="preserve" transform="translate(428.96 1492.2) scale(1.0000 1)" font-size="38.5" fill="#000" style="font-family:'Liberation Serif',serif" >75</text>
<line x1="493.7" y1="1436.3" x2="493.7" y2="1444.3" stroke="#000" stroke-width="2.2" />
<line x1="538.8" y1="1436.3" x2="538.8" y2="1447.3" stroke="#000" stroke-width="2.2" />
<text xml:space="preserve" transform="translate(509.12 1492.2) scale(1.0000 1)" font-size="38.5" fill="#000" style="font-family:'Liberation Serif',serif" >100</text>
<line x1="583.9" y1="1436.3" x2="583.9" y2="1444.3" stroke="#000" stroke-width="2.2" />
<line x1="629" y1="1436.3" x2="629" y2="1447.3" stroke="#000" stroke-width="2.2" />
<text xml:space="preserve" transform="translate(599.29 1492.2) scale(1.0000 1)" font-size="38.5" fill="#000" style="font-family:'Liberation Serif',serif" >125</text>
<line x1="674.1" y1="1436.3" x2="674.1" y2="1444.3" stroke="#000" stroke-width="2.2" />
<line x1="719.2" y1="1436.3" x2="719.2" y2="1447.3" stroke="#000" stroke-width="2.2" />
<text xml:space="preserve" transform="translate(689.52 1492.2) scale(1.0000 1)" font-size="38.5" fill="#000" style="font-family:'Liberation Serif',serif" >150</text>
<line x1="764.3" y1="1436.3" x2="764.3" y2="1444.3" stroke="#000" stroke-width="2.2" />
<line x1="809.4" y1="1436.3" x2="809.4" y2="1447.3" stroke="#000" stroke-width="2.2" />
<text xml:space="preserve" transform="translate(779.69 1492.2) scale(1.0000 1)" font-size="38.5" fill="#000" style="font-family:'Liberation Serif',serif" >175</text>
<line x1="854.5" y1="1436.3" x2="854.5" y2="1444.3" stroke="#000" stroke-width="2.2" />
<line x1="899.6" y1="1436.3" x2="899.6" y2="1447.3" stroke="#000" stroke-width="2.2" />
<text xml:space="preserve" transform="translate(870.65 1492.2) scale(1.0000 1)" font-size="38.5" fill="#000" style="font-family:'Liberation Serif',serif" >200</text>
<g fill="none" stroke-linejoin="round" stroke-linecap="round">
<path d="M175 1244.3 L175.8 1229.4 L176.6 1212.8 L178.3 1196.2 L179.9 1179.6 L181.6 1166" stroke="#000" stroke-width="6.5"/>
<path d="M181.6 1166 L182.8 1160 L185.5 1148 L188.9 1136.2 L195.2 1113.8 L203.2 1096 L214 1080.8 L224.7 1068.3 L238.1 1055.7 L251.5 1045.9 L257 1042 L260.4 1039.7 L265 1040 L270 1043.5 L276 1045 L282.9 1043 L294.5 1031.2 L311.1 1019.5 L327.7 1007.9 L344.3 1002.1 L360.9 1000.4 L380.9 1001.3 L402.4 1007.9 L419 1012.9 L430 1019 L436.6 1022.9 L453.2 1032.8 L469.8 1042.8 L486.4 1052.7 L503 1064.4 L519.6 1077 L526 1080 L531 1080 L536.2 1090.9 L552.8 1109.2 L569.4 1125.8 L586 1140.7 L598.3 1153.6 L607.3 1160 L612.4 1156.2 L616.2 1138 L620 1153.6 L630.2 1163.9 L639.2 1176.6 L649.4 1192 L659.6 1206 L668.6 1221.3 L675 1234.1 L683.9 1246.9 L690.3 1259.6 L696.7 1268.6 L698.5 1269.5" stroke="#000" stroke-width="10"/>
<path d="M183.9 1434 L185.3 1420.4 L187.1 1401.9 L188.5 1388 L189.9 1374.1 L191.8 1360.2 L193.1 1346.3 L195 1332.4 L197.3 1318.5 L200.6 1304.6 L204.5 1285.7 L208.9 1269.4 L216.5 1258.6 L226.3 1245.5 L233.9 1236.9 L241.5 1226 L249.1 1214.1 L254.5 1205.4 L254.5 1198 L259 1194 L261 1186 L262.1 1171.7 L263.2 1160.9 L264.9 1150 L267.6 1136.2 L271.2 1118.3 L275.6 1100.4 L280 1082.6 L286.2 1069.4 L296.2 1052.7 L306.1 1036.1 L316.1 1022.9 L327.7 1012.9 L344.3 1001.3 L360.9 993 L377.5 986.3 L394.1 981.4 L410.7 978.9 L430 978 L453.2 978.9 L494.7 976.4 L522.9 973.5 L539.5 979.7 L556.1 979.7 L557 989.7 L577.7 994.6 L594.3 1002.9 L610.9 1016.2 L627.5 1032.8 L644.1 1046.1 L660.7 1057.7 L676 1072.4 L691.9 1090 L707.9 1105.9 L723.9 1120.3 L739.8 1136.3 L751 1149.6 L760.3 1163 L767.1 1175.1 L772.4 1187.2 L775.8 1194.5" stroke="#0000ff" stroke-width="10"/>
<path d="M785.2 1205.3 L796.6 1204.6 L807.3 1211.3 L820.7 1216.7 L834.1 1222 L847.5 1226 L854.2 1234.1 L860.9 1242.1 L864.3 1252.9" stroke="#0000ff" stroke-width="10"/>
<path d="M177.2 1317 L178.2 1300 L179.1 1279 L180.8 1246 L183.3 1213 L186.6 1188 L189.9 1168 L195 1156 L202.3 1136.2 L214 1118.3 L226.5 1104.9 L238.1 1094.2 L242.6 1087.9 L251.5 1075.4 L258.6 1062 L264 1049.5 L269.4 1037.9 L274.7 1024.5 L277.9 1012.9 L284.6 988 L294.5 973.1 L311.1 959.8 L327.7 953.1 L344.3 950.6 L360.9 953.1 L377.5 958.1 L394.1 963.9 L410.7 968.1 L430 972.2 L444.9 975.5 L469.8 973.9 L494.7 973.9 L527.9 973 L531.2 966.4 L544.5 963.1 L561.1 959.8 L577.7 953.1 L594.3 949 L619.2 948.1 L627.5 946.2 L680 946.2 L707.9 947.1 L739.8 951.1 L787.7 954.3 L827.6 957.5 L867.5 959.9 L871 960.4" stroke="#ff0000" stroke-width="9.6" stroke-linecap="square" stroke-linejoin="miter"/>
</g>
<text xml:space="preserve" transform="translate(70.5 1296.11) rotate(-90) scale(0.9729 1)" font-size="54.7" fill="#000" style="font-family:'Liberation Serif',serif">Potential (V)</text>
<text xml:space="preserve" transform="translate(459.18 1541.1) scale(0.9846 1)" font-size="53.6" fill="#000" style="font-family:'Liberation Serif',serif" >Time (h)</text>
<text xml:space="preserve" transform="translate(2.43 831) scale(0.9376 1)" font-size="46" fill="#000" style="font-family:'Liberation Sans',sans-serif" >C</text>
<g stroke-linecap="round">
<line x1="336.5" y1="1144.9" x2="386" y2="1144.9" stroke="#000" stroke-width="4.8" />
<line x1="336.3" y1="1232.6" x2="386.6" y2="1232.6" stroke="#0000ff" stroke-width="5" />
<line x1="337" y1="1321.2" x2="386" y2="1321.2" stroke="#ff0000" stroke-width="5" />
</g>
<path d="M361.4 1140 L365.5 1148 L357.3 1148 Z" fill="#000" stroke="#000" stroke-width="2"/>
<circle cx="360.6" cy="1232.6" r="4.8" fill="#0000ff"/>
<rect x="355.8" y="1316.2" width="9.6" height="10" fill="#ff0000"/>
<text xml:space="preserve" transform="translate(406.46 1157.8) scale(1.0096 1)" font-size="38.7" fill="#000" style="font-family:'Liberation Serif',serif" >25</text>
<text transform="translate(470.45 1145.68) scale(0.4490 0.3985)" font-size="100" fill="#000" style="font-family:'Liberation Serif',serif">º</text>
<text xml:space="preserve" transform="translate(474.92 1157.5) scale(1.0768 1)" font-size="39.5" fill="#000" style="font-family:'Liberation Serif',serif" >C</text>
<text xml:space="preserve" transform="translate(392.01 1244.4) scale(0.9754 1)" font-size="38.7" fill="#0000ff" style="font-family:'Liberation Serif',serif" >200</text>
<text transform="translate(458.18 1235.63) scale(0.4746 0.4262)" font-size="100" fill="#0000ff" style="font-family:'Liberation Serif',serif">º</text>
<text xml:space="preserve" transform="translate(465.83 1244.4) scale(1.0726 1)" font-size="39.5" fill="#0000ff" style="font-family:'Liberation Serif',serif" >C</text>
<text xml:space="preserve" transform="translate(391.9 1331.7) scale(1.0076 1)" font-size="37" fill="#ff0000" style="font-family:'Liberation Serif',serif" >350</text>
<text transform="translate(458.18 1318.25) scale(0.4746 0.3950)" font-size="100" fill="#ff0000" style="font-family:'Liberation Serif',serif">º</text>
<text xml:space="preserve" transform="translate(462.73 1332) scale(1.0726 1)" font-size="39.5" fill="#ff0000" style="font-family:'Liberation Serif',serif" >C</text>
<line x1="105.5" y1="1557" x2="105.5" y2="1563.5" stroke="#d8d8d8" stroke-width="1.2" />
<line x1="233" y1="1557" x2="233" y2="1563.5" stroke="#d8d8d8" stroke-width="1.2" />
<line x1="360.6" y1="1557" x2="360.6" y2="1563.5" stroke="#d8d8d8" stroke-width="1.2" />
<line x1="488.1" y1="1557" x2="488.1" y2="1563.5" stroke="#d8d8d8" stroke-width="1.2" />
<line x1="615.1" y1="1557" x2="615.1" y2="1563.5" stroke="#d8d8d8" stroke-width="1.2" />
<line x1="742.7" y1="1557" x2="742.7" y2="1563.5" stroke="#d8d8d8" stroke-width="1.2" />
<line x1="869.6" y1="1557" x2="869.6" y2="1563.5" stroke="#d8d8d8" stroke-width="1.2" />
<clipPath id="clipD"><rect x="1095.3" y="806.3" width="677.7" height="672.5"/></clipPath>
<rect x="1095.3" y="846.3" width="667.7" height="612.5" fill="none" stroke="#000" stroke-width="2.2"/>
<line x1="1086.3" y1="1458.8" x2="1095.3" y2="1458.8" stroke="#000" stroke-width="2.2" />
<text xml:space="preserve" transform="translate(1056.83 1469.2) scale(0.9700 1)" font-size="30.5" fill="#000" style="font-family:'Liberation Serif',serif" >0</text>
<line x1="1088.8" y1="1426.9" x2="1095.3" y2="1426.9" stroke="#000" stroke-width="2.2" />
<line x1="1086.3" y1="1395" x2="1095.3" y2="1395" stroke="#000" stroke-width="2.2" />
<text xml:space="preserve" transform="translate(1027.25 1405.4) scale(0.9700 1)" font-size="30.5" fill="#000" style="font-family:'Liberation Serif',serif" >250</text>
<line x1="1088.8" y1="1363.1" x2="1095.3" y2="1363.1" stroke="#000" stroke-width="2.2" />
<line x1="1086.3" y1="1331.2" x2="1095.3" y2="1331.2" stroke="#000" stroke-width="2.2" />
<text xml:space="preserve" transform="translate(1027.25 1341.6) scale(0.9700 1)" font-size="30.5" fill="#000" style="font-family:'Liberation Serif',serif" >500</text>
<line x1="1088.8" y1="1299.29" x2="1095.3" y2="1299.29" stroke="#000" stroke-width="2.2" />
<line x1="1086.3" y1="1267.39" x2="1095.3" y2="1267.39" stroke="#000" stroke-width="2.2" />
<text xml:space="preserve" transform="translate(1027.25 1277.79) scale(0.9700 1)" font-size="30.5" fill="#000" style="font-family:'Liberation Serif',serif" >750</text>
<line x1="1088.8" y1="1235.49" x2="1095.3" y2="1235.49" stroke="#000" stroke-width="2.2" />
<line x1="1086.3" y1="1203.59" x2="1095.3" y2="1203.59" stroke="#000" stroke-width="2.2" />
<text xml:space="preserve" transform="translate(1012.46 1213.99) scale(0.9700 1)" font-size="30.5" fill="#000" style="font-family:'Liberation Serif',serif" >1000</text>
<line x1="1088.8" y1="1171.69" x2="1095.3" y2="1171.69" stroke="#000" stroke-width="2.2" />
<line x1="1086.3" y1="1139.79" x2="1095.3" y2="1139.79" stroke="#000" stroke-width="2.2" />
<text xml:space="preserve" transform="translate(1012.46 1150.19) scale(0.9700 1)" font-size="30.5" fill="#000" style="font-family:'Liberation Serif',serif" >1250</text>
<line x1="1088.8" y1="1107.89" x2="1095.3" y2="1107.89" stroke="#000" stroke-width="2.2" />
<line x1="1086.3" y1="1075.99" x2="1095.3" y2="1075.99" stroke="#000" stroke-width="2.2" />
<text xml:space="preserve" transform="translate(1012.46 1086.39) scale(0.9700 1)" font-size="30.5" fill="#000" style="font-family:'Liberation Serif',serif" >1500</text>
<line x1="1088.8" y1="1044.09" x2="1095.3" y2="1044.09" stroke="#000" stroke-width="2.2" />
<line x1="1086.3" y1="1012.19" x2="1095.3" y2="1012.19" stroke="#000" stroke-width="2.2" />
<text xml:space="preserve" transform="translate(1012.46 1022.59) scale(0.9700 1)" font-size="30.5" fill="#000" style="font-family:'Liberation Serif',serif" >1750</text>
<line x1="1088.8" y1="980.28" x2="1095.3" y2="980.28" stroke="#000" stroke-width="2.2" />
<line x1="1086.3" y1="948.38" x2="1095.3" y2="948.38" stroke="#000" stroke-width="2.2" />
<text xml:space="preserve" transform="translate(1012.46 958.78) scale(0.9700 1)" font-size="30.5" fill="#000" style="font-family:'Liberation Serif',serif" >2000</text>
<line x1="1088.8" y1="916.48" x2="1095.3" y2="916.48" stroke="#000" stroke-width="2.2" />
<line x1="1086.3" y1="884.58" x2="1095.3" y2="884.58" stroke="#000" stroke-width="2.2" />
<text xml:space="preserve" transform="translate(1012.46 894.98) scale(0.9700 1)" font-size="30.5" fill="#000" style="font-family:'Liberation Serif',serif" >2250</text>
<line x1="1088.8" y1="852.68" x2="1095.3" y2="852.68" stroke="#000" stroke-width="2.2" />
<line x1="1095.3" y1="1458.8" x2="1095.3" y2="1468.3" stroke="#000" stroke-width="2.2" />
<text xml:space="preserve" transform="translate(1087.11 1505.5) scale(1.0000 1)" font-size="31" fill="#000" style="font-family:'Liberation Serif',serif" >1</text>
<line x1="1137.03" y1="1458.8" x2="1137.03" y2="1465.8" stroke="#000" stroke-width="2.2" />
<line x1="1178.76" y1="1458.8" x2="1178.76" y2="1468.3" stroke="#000" stroke-width="2.2" />
<text xml:space="preserve" transform="translate(1171.03 1505.5) scale(1.0000 1)" font-size="31" fill="#000" style="font-family:'Liberation Serif',serif" >2</text>
<line x1="1220.49" y1="1458.8" x2="1220.49" y2="1465.8" stroke="#000" stroke-width="2.2" />
<line x1="1262.22" y1="1458.8" x2="1262.22" y2="1468.3" stroke="#000" stroke-width="2.2" />
<text xml:space="preserve" transform="translate(1254.42 1505.5) scale(1.0000 1)" font-size="31" fill="#000" style="font-family:'Liberation Serif',serif" >3</text>
<line x1="1303.96" y1="1458.8" x2="1303.96" y2="1465.8" stroke="#000" stroke-width="2.2" />
<line x1="1345.69" y1="1458.8" x2="1345.69" y2="1468.3" stroke="#000" stroke-width="2.2" />
<text xml:space="preserve" transform="translate(1338.01 1505.5) scale(1.0000 1)" font-size="31" fill="#000" style="font-family:'Liberation Serif',serif" >4</text>
<line x1="1387.42" y1="1458.8" x2="1387.42" y2="1465.8" stroke="#000" stroke-width="2.2" />
<line x1="1429.15" y1="1458.8" x2="1429.15" y2="1468.3" stroke="#000" stroke-width="2.2" />
<text xml:space="preserve" transform="translate(1421.35 1505.5) scale(1.0000 1)" font-size="31" fill="#000" style="font-family:'Liberation Serif',serif" >5</text>
<line x1="1470.88" y1="1458.8" x2="1470.88" y2="1465.8" stroke="#000" stroke-width="2.2" />
<line x1="1512.61" y1="1458.8" x2="1512.61" y2="1468.3" stroke="#000" stroke-width="2.2" />
<text xml:space="preserve" transform="translate(1504.79 1505.5) scale(1.0000 1)" font-size="31" fill="#000" style="font-family:'Liberation Serif',serif" >6</text>
<line x1="1554.34" y1="1458.8" x2="1554.34" y2="1465.8" stroke="#000" stroke-width="2.2" />
<line x1="1596.08" y1="1458.8" x2="1596.08" y2="1468.3" stroke="#000" stroke-width="2.2" />
<text xml:space="preserve" transform="translate(1587.82 1505.5) scale(1.0000 1)" font-size="31" fill="#000" style="font-family:'Liberation Serif',serif" >7</text>
<line x1="1637.81" y1="1458.8" x2="1637.81" y2="1465.8" stroke="#000" stroke-width="2.2" />
<line x1="1679.54" y1="1458.8" x2="1679.54" y2="1468.3" stroke="#000" stroke-width="2.2" />
<text xml:space="preserve" transform="translate(1671.79 1505.5) scale(1.0000 1)" font-size="31" fill="#000" style="font-family:'Liberation Serif',serif" >8</text>
<line x1="1721.27" y1="1458.8" x2="1721.27" y2="1465.8" stroke="#000" stroke-width="2.2" />
<line x1="1763" y1="1458.8" x2="1763" y2="1468.3" stroke="#000" stroke-width="2.2" />
<text xml:space="preserve" transform="translate(1755.39 1505.5) scale(1.0000 1)" font-size="31" fill="#000" style="font-family:'Liberation Serif',serif" >9</text>
<g clip-path="url(#clipD)">
<line x1="1095.3" y1="1391.7" x2="1095.3" y2="1443.3" stroke="#000" stroke-width="4.6" />
<line x1="1089.1" y1="1391.7" x2="1101.5" y2="1391.7" stroke="#000" stroke-width="4.2" />
<line x1="1089.1" y1="1443.3" x2="1101.5" y2="1443.3" stroke="#000" stroke-width="4.2" />
<line x1="1178.76" y1="1355.2" x2="1178.76" y2="1406.8" stroke="#000" stroke-width="4.6" />
<line x1="1172.56" y1="1355.2" x2="1184.96" y2="1355.2" stroke="#000" stroke-width="4.2" />
<line x1="1172.56" y1="1406.8" x2="1184.96" y2="1406.8" stroke="#000" stroke-width="4.2" />
<line x1="1262.22" y1="1294.5" x2="1262.22" y2="1346.1" stroke="#000" stroke-width="4.6" />
<line x1="1256.02" y1="1294.5" x2="1268.42" y2="1294.5" stroke="#000" stroke-width="4.2" />
<line x1="1256.02" y1="1346.1" x2="1268.42" y2="1346.1" stroke="#000" stroke-width="4.2" />
<line x1="1345.69" y1="1300.4" x2="1345.69" y2="1352" stroke="#000" stroke-width="4.6" />
<line x1="1339.49" y1="1300.4" x2="1351.89" y2="1300.4" stroke="#000" stroke-width="4.2" />
<line x1="1339.49" y1="1352" x2="1351.89" y2="1352" stroke="#000" stroke-width="4.2" />
<line x1="1429.15" y1="1302.9" x2="1429.15" y2="1354.5" stroke="#000" stroke-width="4.6" />
<line x1="1422.95" y1="1302.9" x2="1435.35" y2="1302.9" stroke="#000" stroke-width="4.2" />
<line x1="1422.95" y1="1354.5" x2="1435.35" y2="1354.5" stroke="#000" stroke-width="4.2" />
<line x1="1512.61" y1="1312.8" x2="1512.61" y2="1364.4" stroke="#000" stroke-width="4.6" />
<line x1="1506.41" y1="1312.8" x2="1518.81" y2="1312.8" stroke="#000" stroke-width="4.2" />
<line x1="1506.41" y1="1364.4" x2="1518.81" y2="1364.4" stroke="#000" stroke-width="4.2" />
<line x1="1596.08" y1="1315.3" x2="1596.08" y2="1366.9" stroke="#000" stroke-width="4.6" />
<line x1="1589.88" y1="1315.3" x2="1602.28" y2="1315.3" stroke="#000" stroke-width="4.2" />
<line x1="1589.88" y1="1366.9" x2="1602.28" y2="1366.9" stroke="#000" stroke-width="4.2" />
<line x1="1679.54" y1="1328.9" x2="1679.54" y2="1380.5" stroke="#000" stroke-width="4.6" />
<line x1="1673.34" y1="1328.9" x2="1685.74" y2="1328.9" stroke="#000" stroke-width="4.2" />
<line x1="1673.34" y1="1380.5" x2="1685.74" y2="1380.5" stroke="#000" stroke-width="4.2" />
</g>
<path d="M1095.3 1417.5 L1178.76 1381 L1262.22 1320.3 L1345.69 1326.2 L1429.15 1328.7 L1512.61 1338.6 L1596.08 1341.1 L1679.54 1354.7" fill="none" stroke="#000" stroke-width="5.2" stroke-linejoin="round"/>
<path d="M1095.3 1408.2 L1105.3 1417.5 L1095.3 1426.8 L1085.3 1417.5 Z" fill="#000"/>
<path d="M1178.76 1371.7 L1188.76 1381 L1178.76 1390.3 L1168.76 1381 Z" fill="#000"/>
<path d="M1262.22 1311 L1272.22 1320.3 L1262.22 1329.6 L1252.22 1320.3 Z" fill="#000"/>
<path d="M1345.69 1316.9 L1355.69 1326.2 L1345.69 1335.5 L1335.69 1326.2 Z" fill="#000"/>
<path d="M1429.15 1319.4 L1439.15 1328.7 L1429.15 1338 L1419.15 1328.7 Z" fill="#000"/>
<path d="M1512.61 1329.3 L1522.61 1338.6 L1512.61 1347.9 L1502.61 1338.6 Z" fill="#000"/>
<path d="M1596.08 1331.8 L1606.08 1341.1 L1596.08 1350.4 L1586.08 1341.1 Z" fill="#000"/>
<path d="M1679.54 1345.4 L1689.54 1354.7 L1679.54 1364 L1669.54 1354.7 Z" fill="#000"/>
<g clip-path="url(#clipD)">
<line x1="1095.3" y1="1301.9" x2="1095.3" y2="1353.5" stroke="#0000ff" stroke-width="4.6" />
<line x1="1089.1" y1="1301.9" x2="1101.5" y2="1301.9" stroke="#0000ff" stroke-width="4.2" />
<line x1="1089.1" y1="1353.5" x2="1101.5" y2="1353.5" stroke="#0000ff" stroke-width="4.2" />
<line x1="1178.76" y1="1272.7" x2="1178.76" y2="1324.3" stroke="#0000ff" stroke-width="4.6" />
<line x1="1172.56" y1="1272.7" x2="1184.96" y2="1272.7" stroke="#0000ff" stroke-width="4.2" />
<line x1="1172.56" y1="1324.3" x2="1184.96" y2="1324.3" stroke="#0000ff" stroke-width="4.2" />
<line x1="1262.22" y1="1251.7" x2="1262.22" y2="1303.3" stroke="#0000ff" stroke-width="4.6" />
<line x1="1256.02" y1="1251.7" x2="1268.42" y2="1251.7" stroke="#0000ff" stroke-width="4.2" />
<line x1="1256.02" y1="1303.3" x2="1268.42" y2="1303.3" stroke="#0000ff" stroke-width="4.2" />
<line x1="1345.69" y1="1229.2" x2="1345.69" y2="1280.8" stroke="#0000ff" stroke-width="4.6" />
<line x1="1339.49" y1="1229.2" x2="1351.89" y2="1229.2" stroke="#0000ff" stroke-width="4.2" />
<line x1="1339.49" y1="1280.8" x2="1351.89" y2="1280.8" stroke="#0000ff" stroke-width="4.2" />
<line x1="1429.15" y1="1189.7" x2="1429.15" y2="1241.3" stroke="#0000ff" stroke-width="4.6" />
<line x1="1422.95" y1="1189.7" x2="1435.35" y2="1189.7" stroke="#0000ff" stroke-width="4.2" />
<line x1="1422.95" y1="1241.3" x2="1435.35" y2="1241.3" stroke="#0000ff" stroke-width="4.2" />
<line x1="1512.61" y1="1251.7" x2="1512.61" y2="1303.3" stroke="#0000ff" stroke-width="4.6" />
<line x1="1506.41" y1="1251.7" x2="1518.81" y2="1251.7" stroke="#0000ff" stroke-width="4.2" />
<line x1="1506.41" y1="1303.3" x2="1518.81" y2="1303.3" stroke="#0000ff" stroke-width="4.2" />
<line x1="1596.08" y1="1255.2" x2="1596.08" y2="1306.8" stroke="#0000ff" stroke-width="4.6" />
<line x1="1589.88" y1="1255.2" x2="1602.28" y2="1255.2" stroke="#0000ff" stroke-width="4.2" />
<line x1="1589.88" y1="1306.8" x2="1602.28" y2="1306.8" stroke="#0000ff" stroke-width="4.2" />
<line x1="1679.54" y1="1261.2" x2="1679.54" y2="1312.8" stroke="#0000ff" stroke-width="4.6" />
<line x1="1673.34" y1="1261.2" x2="1685.74" y2="1261.2" stroke="#0000ff" stroke-width="4.2" />
<line x1="1673.34" y1="1312.8" x2="1685.74" y2="1312.8" stroke="#0000ff" stroke-width="4.2" />
</g>
<path d="M1095.3 1330.2 L1178.76 1301 L1262.22 1280 L1345.69 1257.5 L1429.15 1218 L1512.61 1280 L1596.08 1283.5 L1679.54 1289.5" fill="none" stroke="#0000ff" stroke-width="5.2" stroke-linejoin="round"/>
<path d="M1095.3 1317.7 L1105.5 1337.7 L1085.1 1337.7 Z" fill="#0000ff"/>
<path d="M1178.76 1288.5 L1188.96 1308.5 L1168.56 1308.5 Z" fill="#0000ff"/>
<path d="M1262.22 1267.5 L1272.42 1287.5 L1252.02 1287.5 Z" fill="#0000ff"/>
<path d="M1345.69 1245 L1355.89 1265 L1335.49 1265 Z" fill="#0000ff"/>
<path d="M1429.15 1205.5 L1439.35 1225.5 L1418.95 1225.5 Z" fill="#0000ff"/>
<path d="M1512.61 1267.5 L1522.81 1287.5 L1502.41 1287.5 Z" fill="#0000ff"/>
<path d="M1596.08 1271 L1606.28 1291 L1585.88 1291 Z" fill="#0000ff"/>
<path d="M1679.54 1277 L1689.74 1297 L1669.34 1297 Z" fill="#0000ff"/>
<g clip-path="url(#clipD)">
<line x1="1095.3" y1="1309.6" x2="1095.3" y2="1361.2" stroke="#ff0000" stroke-width="4.6" />
<line x1="1089.1" y1="1309.6" x2="1101.5" y2="1309.6" stroke="#ff0000" stroke-width="4.2" />
<line x1="1089.1" y1="1361.2" x2="1101.5" y2="1361.2" stroke="#ff0000" stroke-width="4.2" />
<line x1="1178.76" y1="1176.5" x2="1178.76" y2="1228.1" stroke="#ff0000" stroke-width="4.6" />
<line x1="1172.56" y1="1176.5" x2="1184.96" y2="1176.5" stroke="#ff0000" stroke-width="4.2" />
<line x1="1172.56" y1="1228.1" x2="1184.96" y2="1228.1" stroke="#ff0000" stroke-width="4.2" />
<line x1="1262.22" y1="1064" x2="1262.22" y2="1115.6" stroke="#ff0000" stroke-width="4.6" />
<line x1="1256.02" y1="1064" x2="1268.42" y2="1064" stroke="#ff0000" stroke-width="4.2" />
<line x1="1256.02" y1="1115.6" x2="1268.42" y2="1115.6" stroke="#ff0000" stroke-width="4.2" />
<line x1="1345.69" y1="919.3" x2="1345.69" y2="970.9" stroke="#ff0000" stroke-width="4.6" />
<line x1="1339.49" y1="919.3" x2="1351.89" y2="919.3" stroke="#ff0000" stroke-width="4.2" />
<line x1="1339.49" y1="970.9" x2="1351.89" y2="970.9" stroke="#ff0000" stroke-width="4.2" />
<line x1="1429.15" y1="877.4" x2="1429.15" y2="929" stroke="#ff0000" stroke-width="4.6" />
<line x1="1422.95" y1="877.4" x2="1435.35" y2="877.4" stroke="#ff0000" stroke-width="4.2" />
<line x1="1422.95" y1="929" x2="1435.35" y2="929" stroke="#ff0000" stroke-width="4.2" />
<line x1="1512.61" y1="897.8" x2="1512.61" y2="949.4" stroke="#ff0000" stroke-width="4.6" />
<line x1="1506.41" y1="897.8" x2="1518.81" y2="897.8" stroke="#ff0000" stroke-width="4.2" />
<line x1="1506.41" y1="949.4" x2="1518.81" y2="949.4" stroke="#ff0000" stroke-width="4.2" />
<line x1="1596.08" y1="928.7" x2="1596.08" y2="980.3" stroke="#ff0000" stroke-width="4.6" />
<line x1="1589.88" y1="928.7" x2="1602.28" y2="928.7" stroke="#ff0000" stroke-width="4.2" />
<line x1="1589.88" y1="980.3" x2="1602.28" y2="980.3" stroke="#ff0000" stroke-width="4.2" />
<line x1="1679.54" y1="938.6" x2="1679.54" y2="990.2" stroke="#ff0000" stroke-width="4.6" />
<line x1="1673.34" y1="938.6" x2="1685.74" y2="938.6" stroke="#ff0000" stroke-width="4.2" />
<line x1="1673.34" y1="990.2" x2="1685.74" y2="990.2" stroke="#ff0000" stroke-width="4.2" />
</g>
<path d="M1095.3 1335.4 L1178.76 1202.3 L1262.22 1089.8 L1345.69 945.1 L1429.15 903.2 L1512.61 923.6 L1596.08 954.5 L1679.54 964.4" fill="none" stroke="#ff0000" stroke-width="5.2" stroke-linejoin="round"/>
<circle cx="1095.3" cy="1335.4" r="10.2" fill="#ff0000"/>
<circle cx="1178.76" cy="1202.3" r="10.2" fill="#ff0000"/>
<circle cx="1262.22" cy="1089.8" r="10.2" fill="#ff0000"/>
<circle cx="1345.69" cy="945.1" r="10.2" fill="#ff0000"/>
<circle cx="1429.15" cy="903.2" r="10.2" fill="#ff0000"/>
<circle cx="1512.61" cy="923.6" r="10.2" fill="#ff0000"/>
<circle cx="1596.08" cy="954.5" r="10.2" fill="#ff0000"/>
<circle cx="1679.54" cy="964.4" r="10.2" fill="#ff0000"/>
<text xml:space="preserve" transform="translate(976.8 1388.45) rotate(-90) scale(0.9775 1)" font-size="43" fill="#000" style="font-family:'Liberation Serif',serif">Generated power  (mW/m²)</text>
<text xml:space="preserve" transform="translate(1331.35 1550.7) scale(0.9720 1)" font-size="43" fill="#000" style="font-family:'Liberation Serif',serif" >Time (day)</text>
<text xml:space="preserve" transform="translate(945.5 831) scale(0.9429 1)" font-size="46" fill="#000" style="font-family:'Liberation Sans',sans-serif" >D</text>
<g stroke-linecap="round">
<line x1="1560" y1="1033.2" x2="1610.3" y2="1033.2" stroke="#000" stroke-width="5" />
<line x1="1560" y1="1123.7" x2="1610.3" y2="1123.7" stroke="#0000ff" stroke-width="5" />
<line x1="1560" y1="1213.9" x2="1610.3" y2="1213.9" stroke="#ff0000" stroke-width="5" />
</g>
<path d="M1584.5 1023.4 L1592.8 1033 L1584.5 1042.6 L1576.2 1033 Z" fill="#000"/>
<path d="M1584.5 1113.7 L1594.5 1133.2 L1574.6 1133.2 Z" fill="#0000ff"/>
<circle cx="1584.5" cy="1213.9" r="10.3" fill="#ff0000"/>
<text xml:space="preserve" transform="translate(1634.81 1044.6) scale(0.9992 1)" font-size="37.8" fill="#000" style="font-family:'Liberation Serif',serif" >25</text>
<text transform="translate(1694.11 1031.47) scale(0.4271 0.3743)" font-size="100" fill="#000" style="font-family:'Liberation Serif',serif">º</text>
<text xml:space="preserve" transform="translate(1696.63 1044.6) scale(1.0482 1)" font-size="38.5" fill="#000" style="font-family:'Liberation Serif',serif" >C</text>
<text xml:space="preserve" transform="translate(1622.81 1134.3) scale(0.9997 1)" font-size="37.9" fill="#0000ff" style="font-family:'Liberation Serif',serif" >200</text>
<text transform="translate(1687.95 1128.71) scale(0.4490 0.3673)" font-size="100" fill="#0000ff" style="font-family:'Liberation Serif',serif">º</text>
<text xml:space="preserve" transform="translate(1696.09 1134.3) scale(1.0700 1)" font-size="38.5" fill="#0000ff" style="font-family:'Liberation Serif',serif" >C</text>
<text xml:space="preserve" transform="translate(1622.47 1225.3) scale(1.0033 1)" font-size="38" fill="#ff0000" style="font-family:'Liberation Serif',serif" >350</text>
<text transform="translate(1688.23 1217.82) scale(0.4563 0.3916)" font-size="100" fill="#ff0000" style="font-family:'Liberation Serif',serif">º</text>
<text xml:space="preserve" transform="translate(1695.98 1225.3) scale(1.0743 1)" font-size="38.5" fill="#ff0000" style="font-family:'Liberation Serif',serif" >C</text>
</svg>
</body></html>
